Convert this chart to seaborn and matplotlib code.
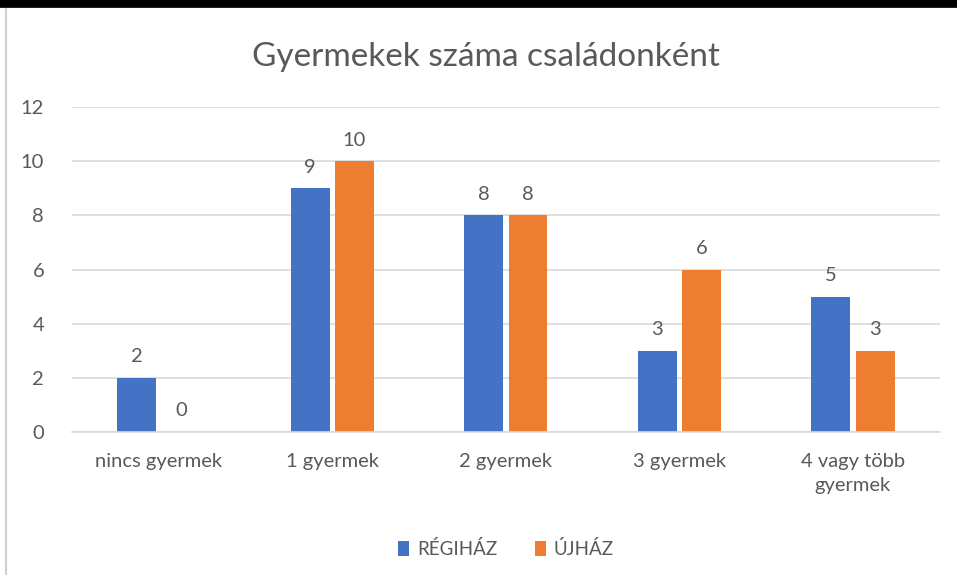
import matplotlib
matplotlib.use("Agg")
import matplotlib.pyplot as plt
import pandas as pd
import seaborn as sns

# Data
categories = ['nincs gyermek', '1 gyermek', '2 gyermek', '3 gyermek', '4 vagy több\ngyermek']
regihaz = [2, 9, 8, 3, 5]
ujhaz = [0, 10, 8, 6, 3]
series = ['RÉGIHÁZ', 'ÚJHÁZ']

df = pd.DataFrame({
    'cat': categories * 2,
    'value': regihaz + ujhaz,
    'series': [series[0]] * len(categories) + [series[1]] * len(categories),
})

sns.set_style('white')
plt.rcParams['font.family'] = ['Lato', 'DejaVu Sans']
text_col = '#595959'

fig = plt.figure(figsize=(9.57, 5.75), dpi=100)
ax = fig.add_axes([0.0752, 0.2487, 0.9068, 0.5652])

sns.barplot(data=df, x='cat', y='value', hue='series', order=categories,
            palette=['#4472C4', '#ED7D31'], width=0.51, gap=0.12,
            saturation=1, linewidth=0, ax=ax, legend=True)

for cont in ax.containers:
    ax.bar_label(cont, padding=9, fontsize=14.5, color=text_col)

ax.set_ylim(0, 12)
ax.set_yticks(range(0, 13, 2))
ax.set_xlim(-0.5, len(categories) - 0.5)
ax.yaxis.grid(True, color='#D9D9D9', linewidth=1.2)
ax.set_axisbelow(True)
for s in ['top', 'right', 'left']:
    ax.spines[s].set_visible(False)
ax.spines['bottom'].set_color('#D9D9D9')
ax.spines['bottom'].set_linewidth(1.2)
ax.tick_params(axis='both', length=0, labelsize=14.5, labelcolor=text_col)
ax.tick_params(axis='y', pad=20)
ax.tick_params(axis='x', pad=15)
for lbl in ax.get_xticklabels():
    lbl.set_linespacing(1.5)
ax.set_xlabel('')
ax.set_ylabel('')

fig.suptitle('Gyermekek száma családonként', x=0.508, y=0.927,
             fontsize=24, color=text_col)

ax.legend(loc='center', bbox_to_anchor=(0.5, -0.36), ncol=2, frameon=False,
          fontsize=13.5, labelcolor=text_col, handlelength=0.6, handleheight=0.9,
          handletextpad=0.4, columnspacing=2.0)

# frame decorations
fig.add_artist(plt.Line2D([0, 1], [0.995, 0.995], color='black', linewidth=7,
                          transform=fig.transFigure))
fig.add_artist(plt.Line2D([0.0063, 0.0063], [0, 0.985], color='#D0D0D0', linewidth=1.5,
                          transform=fig.transFigure))

fig.savefig('out.png', dpi=100)
